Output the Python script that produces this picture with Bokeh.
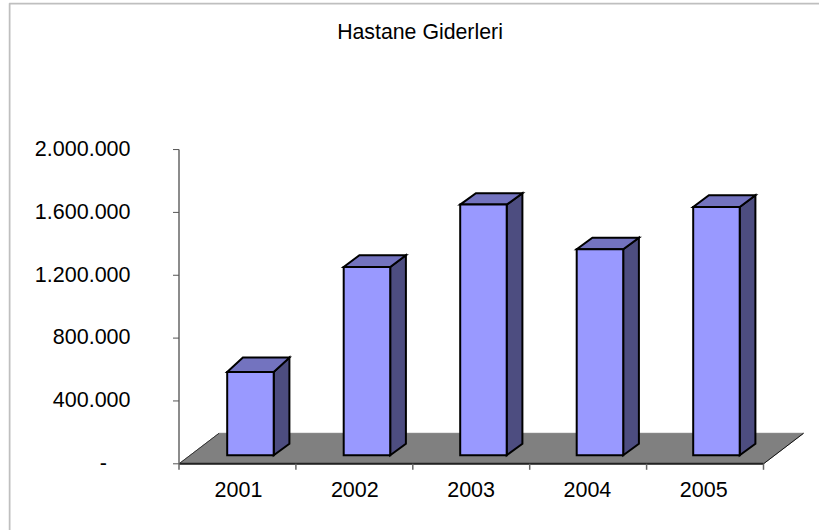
from bokeh.plotting import figure
from bokeh.models import Range1d
from bokeh.core.properties import value
from bokeh.embed import file_html
from bokeh.resources import INLINE

years = ["2001", "2002", "2003", "2004", "2005"]
expenses = [530000, 1198000, 1595000, 1311000, 1580000]
y_ticks = [0, 400000, 800000, 1200000, 1600000, 2000000]
y_labels = {0: "-", 400000: "400.000", 800000: "800.000", 1200000: "1.200.000",
            1600000: "1.600.000", 2000000: "2.000.000"}
title_text = "Hastane Giderleri"
top_depth_px = [14.3, 11.7, 11.4, 11.5, 11.7]

W, H = 811, 528
FONT = "Liberation Sans"
Y0_PX, PX_PER_UNIT = 463.3, 62.85 / 400000
X0_PX, PX_PER_CAT = 178.5, 116.9
BAR_STEP = 116.5 / PX_PER_CAT
LABEL_STEP = 116.3 / PX_PER_CAT
TOP_OFFSET = 2
LEFT_OFFSET = 8

xr = Range1d((LEFT_OFFSET - X0_PX) / PX_PER_CAT, (LEFT_OFFSET + W - X0_PX) / PX_PER_CAT)
yr = Range1d((Y0_PX - (TOP_OFFSET + H)) / PX_PER_UNIT, (Y0_PX - TOP_OFFSET) / PX_PER_UNIT)

p = figure(width=W, height=H, x_range=xr, y_range=yr, output_backend="svg",
           toolbar_location=None, min_border=0, outline_line_color=None,
           background_fill_color="white", border_fill_color="white")
p.margin = (TOP_OFFSET, 0, 0, LEFT_OFFSET)
p.xaxis.visible = False
p.yaxis.visible = False
p.xgrid.visible = False
p.ygrid.visible = False

dx_cat, dy_val = 40 / PX_PER_CAT, 30.5 / PX_PER_UNIT
n = len(years)

# floor
p.patch([0, n, n + dx_cat, dx_cat], [0, 0, dy_val, dy_val],
        fill_color="#808080", line_color="#808080", line_width=1)
p.line([0, n], [0, 0], line_color="#222222", line_width=2)
p.line([n, n + dx_cat], [0, dy_val], line_color="#111111", line_width=1)
p.line([0, dx_cat], [0, dy_val], line_color="#333333", line_width=1)

# axes
p.line([0, 0], [0, y_ticks[-1]], line_color="#666666", line_width=1.5)
tick_cat = 6 / PX_PER_CAT
tick_val = 6 / PX_PER_UNIT
label_right = -48.5 / PX_PER_CAT
dash_right = -72 / PX_PER_CAT
for t in y_ticks:
    p.line([-tick_cat, 0], [t, t], line_color="#555555", line_width=1)
    p.text([dash_right if t == 0 else label_right], [t + 1.2 / PX_PER_UNIT], text=[y_labels[t]],
           text_align="right", text_baseline="middle", text_font=value(FONT),
           text_font_size="21.5px", text_color="#000000")
for i in range(n + 1):
    p.line([i, i], [0, -tick_val], line_color="#666666", line_width=1.5)
for i, yr_lbl in enumerate(years):
    p.text([(59.5 / PX_PER_CAT) + i * LABEL_STEP], [-26 / PX_PER_UNIT], text=[yr_lbl], text_align="center",
           text_baseline="middle", text_font=value(FONT), text_font_size="21.5px", text_color="#000000")

# bars
bar_left = 48.2 / PX_PER_CAT
bar_w = 46.5 / PX_PER_CAT
base = 8.6 / PX_PER_UNIT
ddx, ddy = 15.7 / PX_PER_CAT, 11.5 / PX_PER_UNIT
for i, v in enumerate(expenses):
    l = i * BAR_STEP + bar_left
    r = l + bar_w
    b = base
    t = base + v
    td = top_depth_px[i] / PX_PER_UNIT
    p.patch([r, r + ddx, r + ddx, r], [b, b + ddy, t + td, t], fill_color="#4D4D80",
            line_color="black", line_width=2, line_join="miter")
    p.patch([l, r, r + ddx, l + ddx], [t, t, t + td, t + td], fill_color="#7373BF",
            line_color="black", line_width=2, line_join="miter")
    p.patch([l, r, r, l], [b, b, t, t], fill_color="#9999FF",
            line_color="black", line_width=2, line_join="miter")

# title
p.text([(419.5 - X0_PX) / PX_PER_CAT], [(Y0_PX - 31.5) / PX_PER_UNIT], text=[title_text],
       text_align="center", text_baseline="middle", text_font=value(FONT),
       text_font_size="21.3px", text_color="#000000")

# outer frame (top and left edges of the chart area)
fx = xr.start + 1 / PX_PER_CAT
fy = yr.end - 1 / PX_PER_UNIT
p.line([fx, fx, xr.end], [yr.start, fy, fy], line_color="#BFBFBF", line_width=2)

open("out.html", "w").write(file_html(p, INLINE))
